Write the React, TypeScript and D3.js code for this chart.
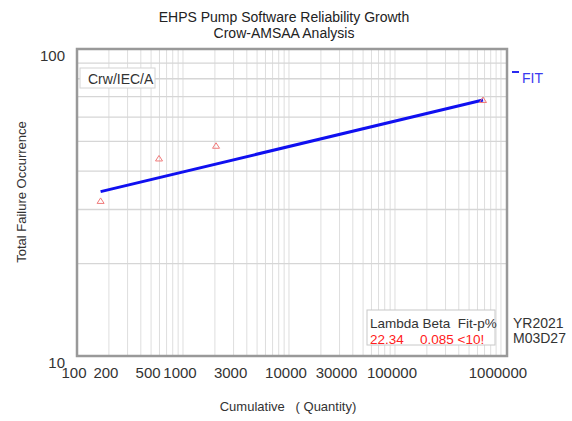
import { useEffect, useRef } from "react"
import * as d3 from "d3"

// observed data points (cumulative quantity, total failures)
const pointQty = [167, 594, 2050, 677000]
const pointFailures = [32, 44, 48.4, 68.2]

// Crow-AMSAA fit line end points
const fitQty = [167, 677000]
const fitFailures = [34.3, 68.2]

const xTickValues = [100, 200, 500, 1000, 3000, 10000, 30000, 100000, 1000000]
const yTickValues = [10, 100]

const statsHeader = "Lambda Beta  Fit-p%"
const statsLambda = "22.34"
const statsBetaFit = "0.085 <10!"
const dateLines = ["YR2021", "M03D27"]

const FONT = "'Liberation Sans', Arial, sans-serif"

export default function App() {
  const svgRef = useRef<SVGSVGElement>(null)

  useEffect(() => {
    if (!svgRef.current) return
    const svg = d3.select(svgRef.current)
    svg.selectAll("*").remove()

    const left = 77
    const right = 507
    const top = 49
    const bottom = 356

    const x = d3.scaleLog().domain([100, 1140000]).range([left, right])
    const y = d3.scaleLog().domain([10, 100]).range([bottom, top])

    svg.append("rect").attr("width", 572).attr("height", 421).attr("fill", "white")

    // Title
    const title = svg
      .append("text")
      .attr("text-anchor", "middle")
      .attr("font-family", FONT)
      .attr("font-size", 14)
      .attr("fill", "#222")
    title.append("tspan").attr("x", 284).attr("y", 22).text("EHPS Pump Software Reliability Growth")
    title.append("tspan").attr("x", 284).attr("y", 38).text("Crow-AMSAA Analysis")

    // Grid lines
    const xGrid: number[] = []
    for (let dec = 100; dec <= 1000000; dec *= 10) {
      for (let m = 1; m <= 9; m++) {
        const v = dec * m
        if (v > 100 && v < 1140000) xGrid.push(v)
      }
    }
    const yGrid = d3.range(20, 100, 10)

    svg
      .append("g")
      .selectAll("line")
      .data(xGrid)
      .enter()
      .append("line")
      .attr("x1", (d) => x(d))
      .attr("x2", (d) => x(d))
      .attr("y1", top)
      .attr("y2", bottom)
      .attr("stroke", "#dedede")
      .attr("stroke-width", 1)

    svg
      .append("g")
      .selectAll("line")
      .data(yGrid)
      .enter()
      .append("line")
      .attr("x1", left)
      .attr("x2", right)
      .attr("y1", (d) => y(d))
      .attr("y2", (d) => y(d))
      .attr("stroke", "#d6d6d6")
      .attr("stroke-width", 1.3)

    // Plot border
    svg
      .append("rect")
      .attr("x", left)
      .attr("y", top)
      .attr("width", right - left)
      .attr("height", bottom - top)
      .attr("fill", "none")
      .attr("stroke", "#999")
      .attr("stroke-width", 2.5)

    // X tick labels
    svg
      .append("g")
      .selectAll("text")
      .data(xTickValues)
      .enter()
      .append("text")
      .attr("x", (d) => x(d) - 3)
      .attr("y", 378)
      .attr("text-anchor", "middle")
      .attr("font-family", FONT)
      .attr("font-size", 15)
      .attr("fill", "#333")
      .text((d) => String(d))

    // Y tick labels
    svg
      .append("g")
      .selectAll("text")
      .data(yTickValues)
      .enter()
      .append("text")
      .attr("x", 65)
      .attr("y", (d) => y(d) + 12)
      .attr("text-anchor", "end")
      .attr("font-family", FONT)
      .attr("font-size", 15)
      .attr("fill", "#333")
      .text((d) => String(d))

    // Axis titles
    svg
      .append("text")
      .attr("transform", "translate(26,192) rotate(-90)")
      .attr("text-anchor", "middle")
      .attr("font-family", FONT)
      .attr("font-size", 13)
      .attr("fill", "#333")
      .text("Total Failure Occurrence")

    svg
      .append("text")
      .attr("x", 288)
      .attr("y", 411)
      .attr("text-anchor", "middle")
      .attr("font-family", FONT)
      .attr("font-size", 13)
      .attr("fill", "#333")
      .style("white-space", "pre")
      .text("Cumulative   ( Quantity)")

    // Crw/IEC/A label box
    svg
      .append("rect")
      .attr("x", 80)
      .attr("y", 68)
      .attr("width", 75)
      .attr("height", 20)
      .attr("fill", "white")
      .attr("stroke", "#d4d4d4")
    svg
      .append("text")
      .attr("x", 88)
      .attr("y", 84)
      .attr("font-family", FONT)
      .attr("font-size", 14)
      .attr("fill", "#333")
      .text("Crw/IEC/A")

    // Fit line
    const fitData = fitQty.map((q, i) => ({ q, n: fitFailures[i] }))
    svg
      .append("path")
      .datum(fitData)
      .attr("fill", "none")
      .attr("stroke", "#1010f0")
      .attr("stroke-width", 3)
      .attr(
        "d",
        d3
          .line<{ q: number; n: number }>()
          .x((d) => x(d.q))
          .y((d) => y(d.n))
      )

    // Data points (open triangles)
    const pts = pointQty.map((q, i) => ({ q, n: pointFailures[i] }))
    svg
      .append("g")
      .selectAll("path")
      .data(pts)
      .enter()
      .append("path")
      .attr("transform", (d) => `translate(${x(d.q)},${y(d.n)})`)
      .attr("d", "M0,-3L3.5,2.5L-3.5,2.5Z")
      .attr("fill", "none")
      .attr("stroke", "#f07a7a")
      .attr("stroke-width", 1)

    // FIT legend
    svg
      .append("line")
      .attr("x1", 512)
      .attr("x2", 519)
      .attr("y1", 72)
      .attr("y2", 72)
      .attr("stroke", "#2a2af0")
      .attr("stroke-width", 2)
    svg
      .append("text")
      .attr("x", 522)
      .attr("y", 83)
      .attr("font-family", FONT)
      .attr("font-size", 14)
      .attr("fill", "#3a3af0")
      .text("FIT")

    // Stats box
    svg
      .append("rect")
      .attr("x", 367)
      .attr("y", 310)
      .attr("width", 128)
      .attr("height", 35)
      .attr("fill", "white")
      .attr("stroke", "#c8c8c8")
    svg
      .append("text")
      .attr("x", 370)
      .attr("y", 328)
      .attr("font-family", FONT)
      .attr("font-size", 13.5)
      .attr("fill", "#333")
      .style("white-space", "pre")
      .text(statsHeader)
    svg
      .append("text")
      .attr("x", 370)
      .attr("y", 344)
      .attr("font-family", FONT)
      .attr("font-size", 13.5)
      .attr("fill", "#ff2020")
      .text(statsLambda)
    svg
      .append("text")
      .attr("x", 420)
      .attr("y", 344)
      .attr("font-family", FONT)
      .attr("font-size", 13.5)
      .attr("fill", "#ff2020")
      .style("white-space", "pre")
      .text(statsBetaFit)

    // Date stamp
    svg
      .append("g")
      .selectAll("text")
      .data(dateLines)
      .enter()
      .append("text")
      .attr("x", 513)
      .attr("y", (_, i) => 328 + i * 15)
      .attr("font-family", FONT)
      .attr("font-size", 14)
      .attr("fill", "#333")
      .text((d) => d)
  }, [])

  return (
    <svg
      ref={svgRef}
      width={572}
      height={421}
      style={{ position: "absolute", left: 0, top: 0 }}
    />
  )
}
